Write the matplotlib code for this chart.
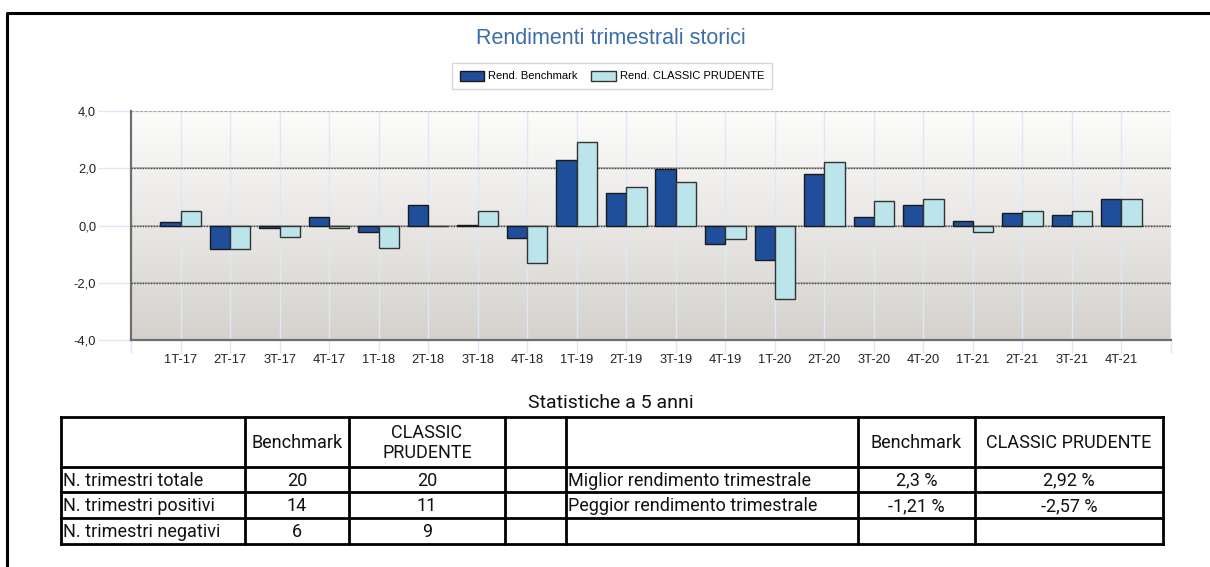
import matplotlib.pyplot as plt
import numpy as np

# quarterly returns (%)
quarters = ['1T-17', '2T-17', '3T-17', '4T-17', '1T-18', '2T-18', '3T-18', '4T-18',
            '1T-19', '2T-19', '3T-19', '4T-19', '1T-20', '2T-20', '3T-20', '4T-20',
            '1T-21', '2T-21', '3T-21', '4T-21']
benchmark = [0.12, -0.81, -0.08, 0.31, -0.24, 0.70, 0.03, -0.43,
             2.30, 1.12, 1.96, -0.64, -1.21, 1.81, 0.31, 0.73,
             0.17, 0.42, 0.35, 0.94]
prudente = [0.49, -0.81, -0.40, -0.08, -0.78, -0.03, 0.49, -1.30,
            2.92, 1.33, 1.53, -0.46, -2.57, 2.21, 0.84, 0.91,
            -0.22, 0.49, 0.52, 0.91]
yticks = [-4, -2, 0, 2, 4]

# statistics table
stats_title = 'Statistiche a 5 anni'
left_header = ['', 'Benchmark', 'CLASSIC\nPRUDENTE', '']
left_rows = [['N. trimestri totale', '20', '20', ''],
             ['N. trimestri positivi', '14', '11', ''],
             ['N. trimestri negativi', '6', '9', '']]
right_header = ['', 'Benchmark', 'CLASSIC PRUDENTE']
right_rows = [['Miglior rendimento trimestrale', '2,3 %', '2,92 %'],
              ['Peggior rendimento trimestrale', '-1,21 %', '-2,57 %'],
              ['', '', '']]

W, H = 1210, 567
fig = plt.figure(figsize=(W / 100, H / 100), dpi=100)

# overlay axes in pixel coords for frame + table
bg = fig.add_axes([0, 0, 1, 1])
bg.set_xlim(0, W)
bg.set_ylim(H, 0)
bg.axis('off')
bg.plot([7, 7, W], [H, 13, 13], color='black', lw=2.2, solid_capstyle='butt')

fig.text(611 / W, 1 - 38 / H, 'Rendimenti trimestrali storici', ha='center', va='center',
         fontsize=15.5, color='#3b6ea8', family='Liberation Sans')

# bar chart
ax = fig.add_axes([131 / W, 1 - 340 / H, (1171 - 131) / W, (340 - 111) / H])
grad = np.linspace(0, 1, 256).reshape(-1, 1)
ax.imshow(grad, extent=[-1, 20, -4, 4], aspect='auto', zorder=0,
          cmap=plt.matplotlib.colors.LinearSegmentedColormap.from_list('bgc', ['#fcfcfb', '#d5d2ce']),
          origin='upper')
x = np.arange(len(quarters))
w = 0.41
for xi in x:
    ax.axvline(xi, color='#dde8f6', lw=1, zorder=1)
ax.axvline(20, color='#dde8f6', lw=1, zorder=1)
for yv in [-2, 0, 2]:
    ax.axhline(yv, color='#b0b0b0', lw=1.2, zorder=1)
    ax.axhline(yv, color='#444444', lw=1, ls=(0, (1, 1)), zorder=1.5)
ax.axhline(4, color='#a8a8a8', lw=1.6, ls=(0, (1.5, 0.5)), zorder=1.5)

b1 = ax.bar(x - w / 2, benchmark, w, color='#1f4e9b', edgecolor='#1a1a1a', lw=1, zorder=3,
            label='Rend. Benchmark')
b2 = ax.bar(x + w / 2, prudente, w, color='#bce5eb', edgecolor='#333333', lw=1, zorder=3,
            label='Rend. CLASSIC PRUDENTE')
ax.set_xlim(-1, 20)
ax.set_ylim(-4, 4)
ax.set_xticks(list(x) + [-1, 20])
ax.set_xticklabels(quarters + ['', ''])
ax.set_yticks(yticks)
ax.set_yticklabels([f'{v:.1f}'.replace('.', ',') for v in yticks])
ax.tick_params(axis='x', length=9, color='#dde8f6', width=1, labelsize=9.3,
               labelcolor='#222222', pad=1)
ax.tick_params(axis='y', length=24, color='#dde8f6', width=1, labelsize=9.3,
               labelcolor='#222222', pad=1)
for lab in ax.get_xticklabels() + ax.get_yticklabels():
    lab.set_family('Liberation Sans')
for s in ['top', 'right']:
    ax.spines[s].set_visible(False)
ax.spines['left'].set_color('#6e6e6e')
ax.spines['left'].set_linewidth(1.6)
ax.spines['bottom'].set_color('#6e6e6e')
ax.spines['bottom'].set_linewidth(1.6)

leg = fig.legend(handles=[b1, b2], loc='center', bbox_to_anchor=(612 / W, 1 - 76 / H),
                 ncol=2, frameon=True, fancybox=False,
                 prop={'family': ['Liberation Sans Narrow', 'Liberation Sans'], 'size': 8},
                 handlelength=2.2, handleheight=1.0, handletextpad=0.4, columnspacing=1.2,
                 borderpad=0.7)
leg.get_frame().set_edgecolor('#cccccc')
leg.get_frame().set_linewidth(1)

# table
tfont = ['Roboto', 'DejaVu Sans']
bg.text(611, 403, stats_title, ha='center', va='center', fontsize=14, family=tfont, color='#111111')
cols = [61, 245, 349, 505, 566, 858, 975, 1163]
rows = [417, 467, 492, 518, 544]
for yv in rows:
    bg.plot([cols[0], cols[-1]], [yv, yv], color='black', lw=2, solid_capstyle='projecting')
for xv in cols:
    bg.plot([xv, xv], [rows[0], rows[-1]], color='black', lw=2, solid_capstyle='projecting')

header = left_header + right_header
body = [l + r for l, r in zip(left_rows, right_rows)]
for j, txt in enumerate(header):
    xc = (cols[j] + cols[j + 1]) / 2
    bg.text(xc, (rows[0] + rows[1]) / 2 + 1, txt, ha='center', va='center', fontsize=13,
            family=tfont, color='#111111', linespacing=1.1)
for i, r in enumerate(body):
    yc = (rows[i + 1] + rows[i + 2]) / 2 + 1
    for j, txt in enumerate(r):
        if j in (0, 4):
            bg.text(cols[j] + 2, yc, txt, ha='left', va='center', fontsize=13,
                    family=tfont, color='#111111')
        else:
            bg.text((cols[j] + cols[j + 1]) / 2, yc, txt, ha='center', va='center',
                    fontsize=13, family=tfont, color='#111111')

fig.savefig('out.png', dpi=100)
